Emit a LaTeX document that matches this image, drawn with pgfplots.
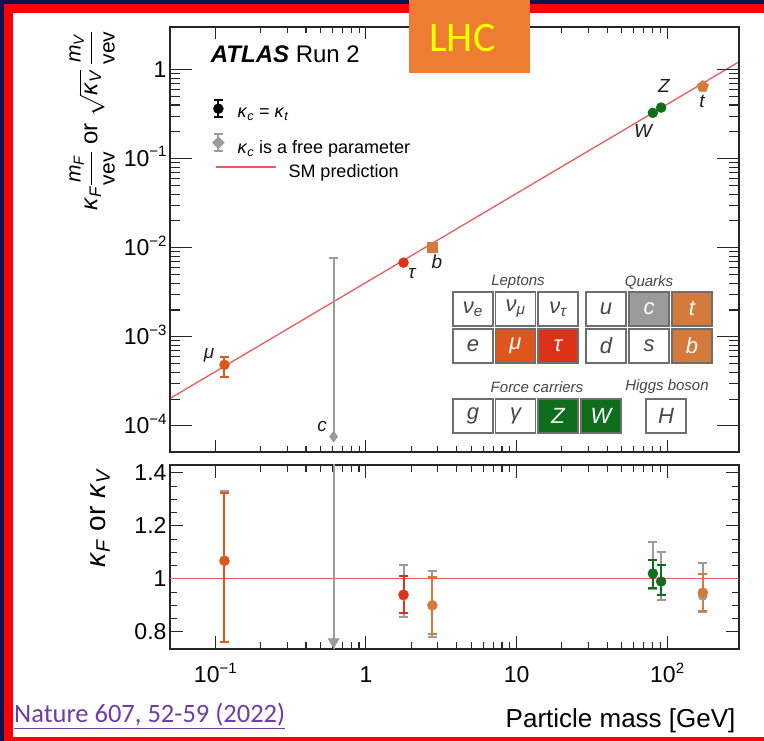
\documentclass[border=0pt]{standalone}
\usepackage{pgfplots}
\pgfplotsset{compat=1.18}
\usepackage{fontspec}
\setmainfont{Liberation Sans}
\newfontfamily\carlito{Carlito}
\definecolor{navy}{RGB}{12,18,80}
\definecolor{bred}{RGB}{255,0,0}
\definecolor{lhc}{RGB}{237,125,49}
\definecolor{lhctext}{RGB}{255,255,0}
\definecolor{linkc}{RGB}{112,60,165}
\definecolor{colmu}{RGB}{222,86,30}
\definecolor{coltau}{RGB}{222,50,24}
\definecolor{colq}{RGB}{212,122,58}
\definecolor{colv}{RGB}{14,110,28}
\definecolor{colg}{RGB}{155,155,155}
\definecolor{smred}{RGB}{236,90,90}
\definecolor{boxline}{RGB}{110,110,110}
\definecolor{txt}{RGB}{30,30,30}
\definecolor{boxtxt}{RGB}{70,70,70}
\newcommand{\fs}[1]{\fontsize{#1}{#1}\selectfont}
\newcommand{\tp}[2]{#1\raisebox{0.42em}{\fs{15}#2}}
\newcommand{\K}{\textit{κ}}
\newcommand{\sub}[1]{\textsubscript{\textit{#1}}}
\pgfplotsset{
  pt/.style={only marks, mark=*, mark size=5pt, color=#1, mark options={fill=#1, draw=#1, solid},
    /pgfplots/error bars/y dir=both, /pgfplots/error bars/y explicit,
    /pgfplots/error bars/error bar style={line width=2pt, color=#1},
    /pgfplots/error bars/error mark options={rotate=90, line width=2pt, mark size=4.5pt, color=#1}},
}
\begin{document}
\begin{tikzpicture}[x=1pt,y=1pt]
\useasboundingbox (0,0) rectangle (764,741);
\fill[navy] (0,0) rectangle (764,741);
\fill[bred] (4,0) rectangle (764,737);
\fill[white] (13,4) rectangle (764,728);

% ---------- top panel: data + x ticks ----------
\begin{axis}[at={(170pt,289pt)}, anchor=south west, width=569pt, height=425pt, scale only axis,
  xmode=log, ymode=log, xmin=0.05, xmax=300, ymin=5.1e-5, ymax=3,
  axis line style={line width=1.2pt, black!85}, tick style={line width=1.1pt, black!85}, tick align=inside,
  xtick={0.1,1,10,100}, xticklabels={,,,}, ytick=\empty,
  major tick length=12pt, minor tick length=6pt,
  legend style={draw=none, fill=none, at={(axis description cs:0.0791,0.6588)}, anchor=west,
    font=\fs{18}, inner sep=0pt, column sep=12pt, nodes={inner sep=0pt}},
  legend cell align=left]
\addplot[smred, line width=1.3pt,
  legend image code/.code={\draw[smred,line width=1.3pt] (0pt,5pt)--(60pt,5pt);}]
  coordinates {(0.05,2.033e-4) (300,1.2195)};
\addlegendentry{SM prediction}
% kappa_c free (grey)
\addplot[forget plot, pt=colg, mark=diamond*, mark size=5.5pt, /pgfplots/error bars/y dir=plus]
  coordinates {(0.61,7.6e-5) += (0,7.62e-3)};
% kappa_c = kappa_t
\addplot[forget plot, pt=colmu] coordinates {(0.115,4.85e-4) += (0,1.15e-4) -= (0,1.30e-4)};
\addplot[forget plot, pt=coltau] coordinates {(1.777,6.8e-3) += (0,3e-4) -= (0,3e-4)};
\addplot[forget plot, pt=colq, mark=square*, mark size=5pt] coordinates {(2.76,1.01e-2) += (0,4e-4) -= (0,4e-4)};
\addplot[forget plot, pt=colv] coordinates {(80.4,0.326) += (0,0.01) -= (0,0.01)};
\addplot[forget plot, pt=colv] coordinates {(91.2,0.374) += (0,0.01) -= (0,0.01)};
\addplot[forget plot, pt=colq, mark=pentagon*, mark size=6pt] coordinates {(172.5,0.645) += (0,0.02) -= (0,0.02)};
\end{axis}

% ---------- top panel: y ticks + legend ----------
\begin{axis}[at={(170pt,289pt)}, anchor=south west, width=569pt, height=425pt, scale only axis,
  xmode=log, ymode=log, xmin=0.05, xmax=300, ymin=5.1e-5, ymax=3,
  axis line style={line width=1.2pt, black!85}, tick style={line width=1.1pt, black!85}, tick align=inside,
  xtick=\empty, ytick={1e-4,1e-3,1e-2,1e-1,1},
  yticklabels={\tp{10}{−4},\tp{10}{−3},\tp{10}{−2},\tp{10}{−1},1},
  yticklabel style={font=\fs{23}, anchor=base east, yshift=-8pt},
  major tick length=22pt, minor tick length=10pt,
  ylabel={\fs{24}$\mbox{\K\sub{F}}\displaystyle\frac{\mbox{\fs{21}\textit{m}\sub{F}}}{\mbox{\fs{21}vev}}$ or $\sqrt{\mbox{\K\sub{V}}}\,\displaystyle\frac{\mbox{\fs{21}\textit{m}\sub{V}}}{\mbox{\fs{21}vev}}$},
  ylabel style={at={(axis description cs:-0.137,1)}, anchor=east},
  legend style={draw=none, fill=none, at={(axis description cs:0.0738,0.8306)}, anchor=north west,
    font=\fs{18}, inner sep=0pt, column sep=13pt, row sep=14pt, nodes={inner sep=0pt}},
  legend cell align=left]
\addlegendimage{legend image code/.code={\draw[black,line width=2pt] (0pt,-3.5pt)--(0pt,13.5pt) (-4.5pt,-3.5pt)--(4.5pt,-3.5pt) (-4.5pt,13.5pt)--(4.5pt,13.5pt); \fill[black] (0pt,5pt) circle (5pt);}}
\addlegendentry{\K\sub{c} = \K\sub{t}}
\addlegendimage{legend image code/.code={\draw[colg,line width=2pt] (0pt,-3.5pt)--(0pt,13.5pt) (-4.5pt,-3.5pt)--(4.5pt,-3.5pt) (-4.5pt,13.5pt)--(4.5pt,13.5pt); \fill[colg] (0pt,11pt)--(6pt,5pt)--(0pt,-1pt)--(-6pt,5pt)--cycle;}}
\addlegendentry{\K\sub{c} is a free parameter}
\end{axis}

% ---------- ratio panel ----------
\begin{axis}[at={(170pt,92pt)}, anchor=south west, width=569pt, height=184pt, scale only axis,
  xmode=log, xmin=0.05, xmax=300, ymin=0.735, ymax=1.43,
  axis line style={line width=1.2pt, black!85}, tick style={line width=1.1pt, black!85}, tick align=inside,
  xtick={0.1,1,10,100}, xticklabels={\tp{10}{−1},1,10,\tp{10}{2}},
  xticklabel style={font=\fs{23}, anchor=base, yshift=-34pt},
  ytick={0.8,1,1.2,1.4}, yticklabels={0.8,1,1.2,1.4}, minor y tick num=3,
  yticklabel style={font=\fs{23}},
  major tick length=13pt, minor tick length=7pt,
  xlabel={Particle mass [GeV]},
  xlabel style={font=\fs{26}, at={(axis description cs:1,-0.424)}, anchor=base east},
  ylabel={\K\sub{F} or \K\sub{V}},
  ylabel style={font=\fs{28}, at={(axis description cs:-0.123,1)}, anchor=east}]
\addplot[smred, line width=1.3pt] coordinates {(0.05,1) (300,1)};
% grey: kappa_c free parameter
\addplot[colg, line width=2pt] coordinates {(0.61,0.70) (0.61,1.50)};
\addplot[only marks, mark=triangle*, mark size=6.5pt, colg, mark options={rotate=180, fill=colg}] coordinates {(0.61,0.762)};
\addplot[pt=colg, mark size=4.5pt] coordinates {
  (0.115,1.07) += (0,0.26) -= (0,0.31)
  (1.777,0.935) += (0,0.118) -= (0,0.081)
  (2.76,0.90) += (0,0.13) -= (0,0.12)
  (80.4,1.02) += (0,0.12) -= (0,0.06)
  (91.2,0.99) += (0,0.11) -= (0,0.07)
  (172.5,0.935) += (0,0.125) -= (0,0.062)
};
% kappa_c = kappa_t
\addplot[pt=colmu] coordinates {(0.115,1.068) += (0,0.258) -= (0,0.308)};
\addplot[pt=coltau] coordinates {(1.777,0.94) += (0,0.07) -= (0,0.07)};
\addplot[pt=colq] coordinates {(2.76,0.90) += (0,0.108) -= (0,0.11)};
\addplot[pt=colv] coordinates {(80.4,1.02) += (0,0.052) -= (0,0.054)};
\addplot[pt=colv] coordinates {(91.2,0.99) += (0,0.063) -= (0,0.05)};
\addplot[pt=colq] coordinates {(172.5,0.948) += (0,0.072) -= (0,0.068)};
\end{axis}

% ---------- annotations ----------
\node[anchor=base west, text=black, font=\fs{24}, inner sep=0pt] at (210.7,678) {\textbf{\textit{ATLAS}} Run 2};
\begin{scope}[font=\fs{19}\itshape, text=txt]
\node at (209,386) {μ};
\node at (412,467) {τ};
\node at (437,479) {b};
\node at (322,315) {c};
\node at (643,610) {W};
\node at (664,655) {Z};
\node at (702,640) {t};
\end{scope}
\newcommand{\pbox}[5]{\draw[boxline, line width=1.2pt, fill=#3] (#1,#2) rectangle ++(40,34);
  \node[text=#4, font=\fs{22}\itshape] at (#1+20,#2+17) {#5};}
\pbox{453}{415}{white}{boxtxt}{ν\sub{e}}
\pbox{495.5}{415}{white}{boxtxt}{ν\sub{μ}}
\pbox{538}{415}{white}{boxtxt}{ν\sub{τ}}
\pbox{586}{415}{white}{boxtxt}{u}
\pbox{629}{415}{colg}{white}{c}
\pbox{672}{415}{colq}{white}{t}
\pbox{453}{378}{white}{boxtxt}{e}
\pbox{495.5}{378}{colmu}{white}{μ}
\pbox{538}{378}{coltau}{white}{τ}
\pbox{586}{378}{white}{boxtxt}{d}
\pbox{629}{378}{white}{boxtxt}{s}
\pbox{672}{378}{colq}{white}{b}
\pbox{453}{308}{white}{boxtxt}{g}
\pbox{495.5}{308}{white}{boxtxt}{γ}
\pbox{538}{308}{colv}{white}{Z}
\pbox{581}{308}{colv}{white}{W}
\pbox{646}{308}{white}{boxtxt}{H}
\begin{scope}[font=\fs{15}\itshape, text=boxtxt]
\node at (518,459) {Leptons};
\node at (649,459) {Quarks};
\node at (537,354) {Force carriers};
\node at (667,354) {Higgs boson};
\end{scope}

\fill[lhc] (409,668) rectangle (530,741);
\node[anchor=base west, text=lhctext, font=\carlito\fs{42}, inner sep=0pt] at (429,689) {LHC};
\node[anchor=base west, text=linkc, font=\carlito\fs{26.5}, inner sep=0pt] at (14,18) {\underline{Nature 607, 52-59 (2022)}};
\end{tikzpicture}
\end{document}
